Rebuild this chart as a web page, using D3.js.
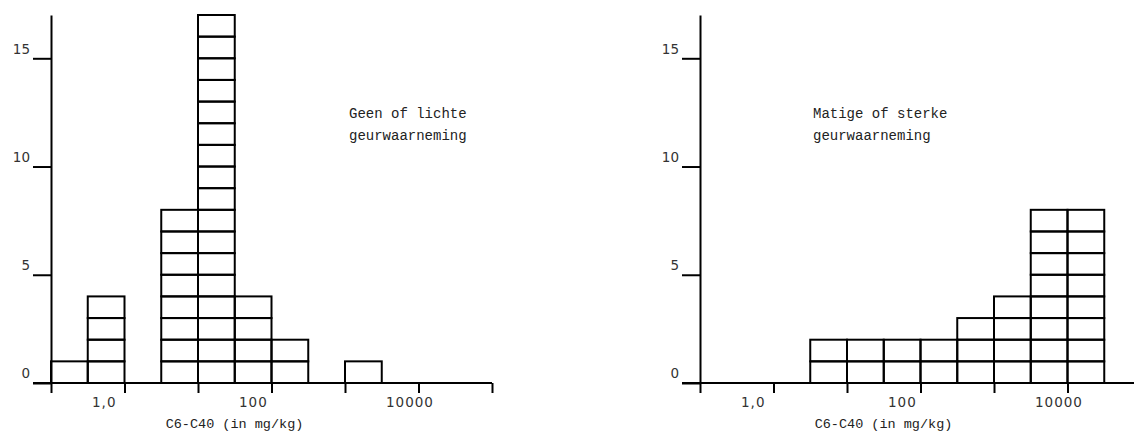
<!DOCTYPE html>
<html lang="en">
<head>
<meta charset="utf-8">
<style>
  body { margin: 0; background: #fff; }
  svg { display: block; }
  .tick text { fill: #333; }
</style>
</head>
<body>
<svg id="chart" width="1134" height="432"></svg>
<script src="https://cdn.jsdelivr.net/npm/d3@7"></script>
<script>
// histogram of C6-C40 concentration, bins are half decades from 0.1 to 1e5
var geenCounts = [1, 4, 0, 8, 17, 4, 2, 0, 1, 0, 0, 0];
var matigeCounts = [0, 0, 0, 2, 2, 2, 2, 3, 4, 8, 8, 0];
var xTicks = [0.1, 1, 10, 100, 1000, 10000, 100000];
var xTickLabels = {1: "1,0", 100: "100", 10000: "10000"};
var yTicks = [0, 5, 10, 15];
var xTitle = "C6-C40 (in mg/kg)";
var geenNote = ["Geen of lichte", "geurwaarneming"];
var matigeNote = ["Matige of sterke", "geurwaarneming"];

var svg = d3.select("#chart");
var plotW = 441, plotH = 368, plotTop = 15;

var x = d3.scaleLog().domain([0.1, 100000]).range([0, plotW]);
var y = d3.scaleLinear().domain([0, 17]).range([plotH, 0]);

function drawPanel(left, counts, note, noteX) {
    var g = svg.append("g").attr("transform", "translate(" + left + "," + plotTop + ")");

    // one box per observation, stacked in each bin
    var boxes = [];
    counts.forEach(function(c, i) {
        var lo = Math.pow(10, -1 + 0.5 * i), hi = Math.pow(10, -0.5 + 0.5 * i);
        for (var k = 0; k < c; k++) boxes.push({lo: lo, hi: hi, k: k});
    });
    g.selectAll("rect.box")
        .data(boxes)
        .enter()
        .append("rect")
        .attr("class", "box")
        .attr("x", function(d) { return x(d.lo); })
        .attr("width", function(d) { return x(d.hi) - x(d.lo); })
        .attr("y", function(d) { return y(d.k + 1); })
        .attr("height", function(d) { return y(d.k) - y(d.k + 1); })
        .attr("fill", "none")
        .attr("stroke", "black")
        .attr("stroke-width", 2);

    var xAxis = g.append("g")
        .attr("transform", "translate(0," + plotH + ")")
        .call(d3.axisBottom(x).tickValues(xTicks).tickSize(10).tickSizeOuter(0)
            .tickFormat(function(d) { return xTickLabels[d] || ""; }));
    xAxis.select(".domain").remove();
    xAxis.append("line")
        .attr("x1", -18).attr("x2", plotW)
        .attr("stroke", "black").attr("stroke-width", 2);
    xAxis.selectAll(".tick line").attr("stroke", "black").attr("stroke-width", 2);
    xAxis.selectAll(".tick text")
        .attr("text-anchor", "start")
        .attr("x", -33)
        .attr("y", 14)
        .attr("dy", "0.71em")
        .style("font-family", "DejaVu Sans")
        .style("font-size", "13.5px")
        .style("letter-spacing", "1px");

    var yAxis = g.append("g")
        .call(d3.axisLeft(y).tickValues(yTicks).tickSize(18).tickSizeOuter(0));
    yAxis.select(".domain").attr("stroke", "black").attr("stroke-width", 2);
    yAxis.selectAll(".tick line").attr("stroke", "black").attr("stroke-width", 2);
    yAxis.selectAll(".tick text")
        .attr("x", -21)
        .attr("y", -10)
        .attr("dy", "0.35em")
        .style("font-family", "DejaVu Sans")
        .style("font-size", "13.5px");

    g.append("text")
        .attr("x", plotW / 2 - 37)
        .attr("y", plotH + 45)
        .attr("text-anchor", "middle")
        .style("font-family", "Liberation Mono")
        .style("font-size", "13.5px")
        .attr("fill", "#222")
        .text(xTitle);

    g.selectAll("text.note")
        .data(note)
        .enter()
        .append("text")
        .attr("class", "note")
        .attr("x", noteX)
        .attr("y", function(d, i) { return 103 + i * 21.5; })
        .style("font-family", "Liberation Mono")
        .style("font-size", "14px")
        .attr("fill", "#222")
        .text(function(d) { return d; });
}

drawPanel(51, geenCounts, geenNote, 298);
drawPanel(700, matigeCounts, matigeNote, 113);
</script>
</body>
</html>
